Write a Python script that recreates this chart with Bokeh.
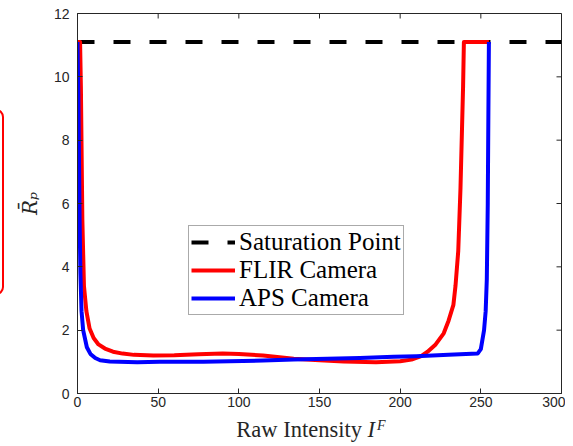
from bokeh.plotting import figure
from bokeh.models import Range1d, FixedTicker, Legend, LegendItem, Div
from bokeh.layouts import column
from bokeh.embed import file_html
from bokeh.resources import INLINE

x_ticks = [0, 50, 100, 150, 200, 250, 300]
y_ticks = [0, 2, 4, 6, 8, 10, 12]

sat_x = [0, 300]
sat_y = [11.1, 11.1]

flir_x = [0, 1.6, 2.1, 3.0, 4.0, 5.5, 7.5, 10, 13, 17, 22, 28, 35, 47, 60, 75, 90, 100,
          115, 134, 150, 165, 185, 200, 207, 213, 217, 222, 227, 230, 233, 234.3, 236,
          237.4, 239, 239.5, 255]
flir_y = [11.1, 11.1, 9.7, 5.5, 3.4, 2.6, 2.05, 1.75, 1.55, 1.42, 1.32, 1.26, 1.22, 1.2,
          1.21, 1.24, 1.26, 1.25, 1.2, 1.1, 1.05, 1.01, 0.99, 1.02, 1.07, 1.18, 1.32, 1.55,
          1.9, 2.3, 2.8, 3.4, 4.5, 6.5, 9.7, 11.1, 11.1]

aps_x = [0, 0.5, 0.9, 1.3, 1.8, 2.5, 3.5, 5.8, 8, 11, 14, 20, 37, 51, 78, 115, 134, 148,
         175, 196, 210, 230, 248, 250, 252, 253, 253.7, 254.3, 254.7, 255]
aps_y = [11.1, 9.5, 7.5, 5.5, 3.8, 2.6, 2.0, 1.46, 1.25, 1.12, 1.05, 1.01, 0.99, 1.0, 1.0,
         1.04, 1.07, 1.09, 1.12, 1.16, 1.18, 1.22, 1.26, 1.4, 2.0, 2.6, 3.6, 6.0, 9.0, 11.1]

legend_labels = ["Saturation Point", "FLIR Camera", "APS Camera"]
x_label = "Raw Intensity"
x_label_sym = "I"
x_label_sup = "F"
y_label = "R\u0304\u209a"

AX = "#262626"
X0, X1, Y0, Y1 = 0, 300, 0, 12
W, H = 565, 414
BL, BR, BT, BB = 77, 4, 13, 21
FW, FH = W - BL - BR, H - BT - BB
TICK = 5

p = figure(width=W, height=H, output_backend="svg", toolbar_location=None,
           x_range=Range1d(X0, X1), y_range=Range1d(Y0, Y1),
           min_border_left=BL, min_border_right=BR, min_border_top=BT, min_border_bottom=BB)
p.background_fill_color = "white"
p.border_fill_color = "white"
p.outline_line_color = AX
p.outline_line_width = 1
p.xgrid.visible = False
p.ygrid.visible = False

r_sat = p.line(sat_x, sat_y, line_color="black", line_width=4, line_dash="17 19")
r_flir = p.line(flir_x, flir_y, line_color="#ff0000", line_width=4, line_join="round")
r_aps = p.line(aps_x, aps_y, line_color="#0000ff", line_width=4, line_join="round")

# mirrored inward ticks on top and right edges of the box
ty = TICK * (Y1 - Y0) / FH
tx = TICK * (X1 - X0) / FW
p.segment(x0=x_ticks, y0=[Y1] * len(x_ticks), x1=x_ticks, y1=[Y1 - ty] * len(x_ticks),
          line_color=AX, line_width=1)
p.segment(x0=[X1] * len(y_ticks), y0=y_ticks, x1=[X1 - tx] * len(y_ticks), y1=y_ticks,
          line_color=AX, line_width=1)

for ax in [p.xaxis[0], p.yaxis[0]]:
    ax.major_tick_in = TICK
    ax.major_tick_out = 0
    ax.minor_tick_line_color = None
    ax.axis_line_color = AX
    ax.major_tick_line_color = AX
    ax.major_label_text_color = AX
    ax.major_label_text_font = "Liberation Sans"
    ax.major_label_text_font_size = "14px"

p.xaxis[0].ticker = FixedTicker(ticks=x_ticks)
p.yaxis[0].ticker = FixedTicker(ticks=y_ticks)
p.xaxis[0].major_label_standoff = 3
p.yaxis[0].major_label_standoff = 8

p.yaxis[0].axis_label = y_label
p.yaxis[0].axis_label_text_font = "DejaVu Serif"
p.yaxis[0].axis_label_text_font_style = "italic"
p.yaxis[0].axis_label_text_font_size = "20px"
p.yaxis[0].axis_label_text_color = AX
p.yaxis[0].axis_label_standoff = 9

legend = Legend(items=[LegendItem(label=legend_labels[0], renderers=[r_sat]),
                       LegendItem(label=legend_labels[1], renderers=[r_flir]),
                       LegendItem(label=legend_labels[2], renderers=[r_aps])],
                location=(111, 78), orientation="vertical")
legend.label_text_font = "Liberation Serif"
legend.label_text_font_size = "25px"
legend.label_text_color = "black"
legend.glyph_width = 44
legend.glyph_height = 26
legend.label_height = 26
legend.label_standoff = 4
legend.padding = 2
legend.spacing = 0
legend.margin = 0
legend.border_line_color = "#555555"
legend.border_line_width = 1
legend.background_fill_color = "white"
legend.background_fill_alpha = 1
p.add_layout(legend, "center")

# x-axis title with italic symbol and superscript, plus the red rounded marker at the left edge
label_html = (
    '<div style="height:0;overflow:visible">'
    '<div style="position:relative;left:-12px;top:-305px;width:16px;height:186px;'
    'border:2px solid #ff0000;border-radius:11px;"></div></div>'
    '<div style="width:508px;margin-left:57px;text-align:center;padding-top:5px;'
    "font-family:'Liberation Serif';font-size:22.5px;line-height:22.5px;"
    'color:#262626;white-space:nowrap">'
    f'{x_label} <i>{x_label_sym}</i>'
    f'<span style="font-style:italic;font-size:14px;position:relative;top:-7px;'
    f'margin-left:2px">{x_label_sup}</span></div>'
)
div = Div(text=label_html, width=W, height=446 - H, margin=0)

layout = column(p, div, spacing=0)
open("out.html", "w").write(file_html(layout, INLINE))
